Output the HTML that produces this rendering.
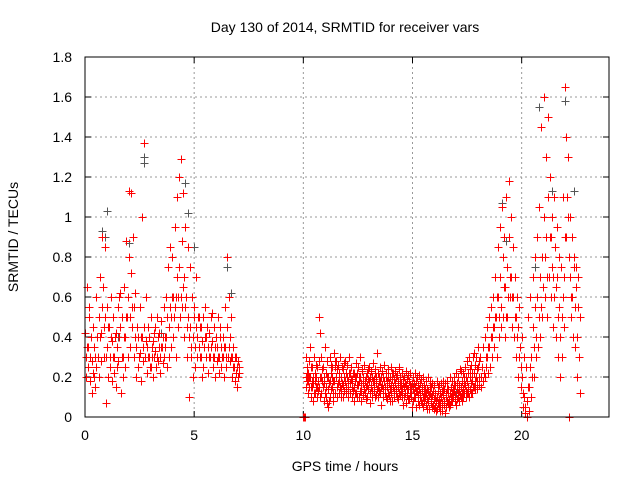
<!DOCTYPE html>
<html><head><meta charset="utf-8"><style>
body{margin:0;background:#fff;}
svg{display:block;font-family:"Liberation Sans",sans-serif;}
.r{stroke:#ff0000;}
.g{stroke:#555555;}
#marks path{shape-rendering:crispEdges;}
</style></head><body>
<svg id="chart" width="640" height="480">
<rect width="640" height="480" fill="#fff"/>
<text x="345" y="32" font-size="14" text-anchor="middle">Day 130 of 2014, SRMTID for receiver vars</text>
<text x="18" y="237" font-size="14" text-anchor="middle" transform="rotate(-90 18 237)">SRMTID / TECUs</text>
<text x="345" y="471" font-size="14" text-anchor="middle">GPS time / hours</text>
<g id="grid"></g><g id="ticks"></g><g id="marks"></g>
<rect x="85" y="57" width="524" height="360" fill="none" stroke="#000" stroke-width="1"/>
</svg>
<script>
const xTicks=[0,5,10,15,20];
const yTicks=[0,0.2,0.4,0.6,0.8,1,1.2,1.4,1.6,1.8];
const yTickLabels=["0","0.2","0.4","0.6","0.8","1","1.2","1.4","1.6","1.8"];
const redTimes=[0.0,0.1,0.2,0.3,0.4,0.5,0.6,0.7,0.8,0.9,1.0,1.1,1.2,1.3,1.4,1.5,1.6,1.7,1.8,1.9,2.0,2.1,2.2,2.3,2.4,2.5,2.6,2.7,2.8,2.9,3.0,3.1,3.2,3.3,3.4,3.5,3.6,3.7,3.8,3.9,4.0,4.1,4.2,4.3,4.4,4.5,4.6,4.7,4.8,4.9,5.0,5.1,5.2,5.3,5.4,5.5,5.6,5.7,5.8,5.9,6.0,6.1,6.2,6.3,6.4,6.5,6.6,6.7,6.8,6.9,7.0,
18.1,18.2,18.3,18.4,18.5,18.6,18.7,18.8,18.9,19.0,19.1,19.2,19.3,19.4,19.5,19.6,19.7,19.8,19.9,20.0,20.1,20.2,20.3,20.4,20.5,20.6,20.7,20.8,20.9,21.0,21.1,21.2,21.3,21.4,21.5,21.6,21.7,21.8,21.9,22.0,22.1,22.2,22.3,22.4,22.5,22.6];
const redValues=[[.42,.3,.2,.35],[.65,.35,.25,.5],[.55,.18,.3,.4],[.28,.12,.45,.22],[.35,.2,.15,.3],[.6,.25,.4,.3],[.3,.5,.2,.4],[.7,.42,.28,.55],[.9,.65,.3,.45],[.85,.5,.07,.3],[.55,.35,.2,.45],[.45,.25,.3,.4],[.6,.38,.18,.3],[.5,.3,.22,.4],[.42,.15,.35,.25],[.55,.28,.6,.4],[.62,.45,.12,.3],[.5,.3,.2,.4],[.65,.4,.25,.5],[.88,.5,.3,.6],[1.13,.8,.35,.5],[1.12,.72,.45,.55],[.9,.55,.3,.4],[.62,.35,.2,.45],[.45,.25,.4,.3],[.55,.32,.18,.4],[1.0,.4,.28,.35],[1.37,.45,.3,.38],[.6,.35,.22,.3],[.45,.3,.4,.25],[.5,.25,.35,.3],[.38,.2,.3,.42],[.45,.33,.25,.3],[.5,.28,.4,.35],[.42,.3,.22,.35],[.48,.35,.27,.4],[.55,.3,.4,.35],[.6,.4,.25,.5],[.75,.45,.3,.55],[.85,.5,.35,.6],[.8,.6,.4,.5],[.95,.55,.3,.6],[1.1,.7,.45,.6],[1.2,.75,.5,.6],[1.29,.88,.55,.65],[1.12,.7,.4,.55],[.95,.6,.3,.45],[.85,.5,.1,.4],[.75,.45,.3,.35],[.6,.4,.2,.5],[.55,.35,.25,.45],[.7,.4,.3,.5],[.5,.35,.45,.3],[.45,.3,.2,.38],[.5,.25,.35,.4],[.55,.4,.3,.45],[.45,.35,.22,.3],[.42,.3,.5,.35],[.52,.38,.25,.3],[.45,.3,.2,.35],[.4,.28,.35,.3],[.5,.3,.22,.4],[.45,.35,.25,.3],[.4,.3,.2,.35],[.55,.35,.25,.3],[.8,.45,.3,.35],[.6,.4,.28,.3],[.5,.3,.2,.25],[.35,.25,.18,.3],[.3,.22,.15,.25],[.28,.2,.25,.22],
[.3,.2,.15,.25],[.25,.18,.35,.22],[.4,.2,.3,.25],[.45,.3,.22,.35],[.5,.35,.25,.4],[.55,.4,.3,.45],[.6,.45,.35,.5],[.7,.5,.3,.6],[.85,.6,.4,.5],[.95,.7,.45,.55],[1.05,.8,.5,.65],[.9,.65,.4,.5],[1.1,.75,.5,.6],[1.18,.9,.6,.7],[1.0,.7,.45,.6],[.85,.6,.4,.5],[.7,.5,.3,.4],[.6,.45,.2,.3],[.55,.35,.15,.25],[.4,.2,.05,.12],[.3,.1,0.02,.05],[.25,.08,0,.15],[.5,.15,.03,.25],[.6,.3,.1,.2],[.7,.45,.2,.35],[.8,.55,.3,.4],[.9,.6,.35,.5],[1.05,.7,.4,.55],[1.45,.8,.5,.65],[1.6,1.0,.6,.8],[1.3,.9,.5,.7],[1.5,1.1,.7,.9],[1.2,.9,.6,.75],[1.0,.7,.45,.6],[1.1,.85,.4,.65],[.95,.7,.3,.5],[.8,.55,.2,.4],[.75,.5,.3,.6],[1.1,.7,.45,.9],[1.65,1.4,.9,1.1],[1.3,1.0,0,.8],[1.0,.7,.5,.6],[.9,.6,.4,.75],[.8,.55,.35,.65],[.75,.4,.2,.55],[.7,.3,.12,.5]];
const quietTimes=[10.0,10.1,10.2,10.3,10.4,10.5,10.6,10.7,10.8,10.9,11.0,11.1,11.2,11.3,11.4,11.5,11.6,11.7,11.8,11.9,12.0,12.1,12.2,12.3,12.4,12.5,12.6,12.7,12.8,12.9,13.0,13.1,13.2,13.3,13.4,13.5,13.6,13.7,13.8,13.9,14.0,14.1,14.2,14.3,14.4,14.5,14.6,14.7,14.8,14.9,15.0,15.1,15.2,15.3,15.4,15.5,15.6,15.7,15.8,15.9,16.0,16.1,16.2,16.3,16.4,16.5,16.6,16.7,16.8,16.9,17.0,17.1,17.2,17.3,17.4,17.5,17.6,17.7,17.8,17.9,18.0];
const quietValues=[[0,0,0,0,0,0],[.3,.2,.15,.25,.18,.22],[.22,.18,.12,.28,.2,.15],[.35,.2,.1,.15,.25,.18],[.25,.15,.08,.2,.17,.12],[.3,.18,.12,.22,.26,.15],[.2,.15,.1,.25,.18,.13],[.5,.28,.15,.1,.2,.42],[.3,.2,.12,.18,.24,.15],[.25,.15,.08,.2,.17,.12],[.35,.22,.1,.15,.2,.07],[.28,.2,.14,.05,.17,.08],[.3,.18,.1,.22,.26,.14],[.25,.2,.15,.08,.18,.12],[.32,.18,.12,.25,.28,.2],[.28,.2,.1,.15,.24,.17],[.26,.18,.12,.22,.3,.15],[.3,.2,.14,.1,.25,.17],[.24,.16,.1,.2,.27,.13],[.28,.18,.12,.22,.15,.2],[.26,.2,.14,.1,.18,.22],[.3,.17,.12,.22,.19,.25],[.25,.19,.1,.15,.22,.13],[.22,.15,.08,.18,.2,.12],[.27,.2,.12,.16,.22,.1],[.25,.16,.1,.2,.18,.13],[.3,.2,.13,.08,.17,.23],[.24,.17,.11,.2,.14,.26],[.26,.18,.12,.15,.2,.09],[.22,.16,.1,.19,.14,.24],[.25,.18,.12,.07,.2,.15],[.23,.16,.1,.2,.13,.18],[.27,.19,.13,.15,.22,.1],[.24,.17,.11,.2,.14,.32],[.22,.15,.1,.18,.13,.2],[.25,.18,.12,.06,.2,.15],[.23,.16,.1,.2,.14,.18],[.26,.18,.12,.15,.2,.1],[.22,.15,.09,.18,.12,.2],[.24,.17,.11,.2,.14,.08],[.25,.16,.12,.08,.19,.22],[.22,.15,.1,.19,.13,.17],[.23,.17,.12,.14,.2,.1],[.21,.15,.09,.18,.12,.25],[.24,.16,.11,.2,.13,.17],[.22,.14,.1,.06,.17,.19],[.2,.15,.1,.17,.12,.07],[.23,.16,.11,.14,.19,.09],[.21,.14,.09,.18,.12,.16],[.22,.15,.1,.12,.17,.05],[.2,.14,.08,.17,.12,.1],[.22,.15,.1,.05,.13,.18],[.2,.13,.08,.16,.11,.06],[.21,.14,.1,.12,.17,.08],[.19,.13,.07,.15,.1,.05],[.2,.12,.08,.16,.1,.14],[.18,.12,.06,.14,.09,.04],[.2,.13,.08,.04,.11,.16],[.18,.12,.07,.15,.1,.05],[.17,.11,.06,.13,.09,.04],[.16,.1,.05,.12,.08,.03],[.18,.1,.04,.13,.07,.15],[.16,.09,.05,.12,.07,.03],[.17,.1,.03,.13,.07,.14],[.18,.11,.06,.14,.08,.02],[.17,.1,.05,.12,.08,.14],[.18,.12,.07,.14,.09,.05],[.2,.12,.06,.15,.1,.08],[.18,.12,.08,.14,.1,.16],[.2,.13,.08,.16,.11,.06],[.22,.14,.09,.17,.12,.1],[.2,.13,.08,.16,.11,.24],[.23,.15,.1,.18,.12,.08],[.22,.14,.1,.17,.12,.2],[.25,.16,.1,.2,.13,.12],[.28,.18,.12,.22,.15,.1],[.3,.2,.14,.24,.17,.12],[.26,.18,.12,.22,.15,.3],[.32,.22,.15,.26,.18,.14],[.3,.2,.14,.24,.18,.35],[.35,.25,.16,.28,.2,.3]];
const grayTimes=[0.8,0.9,1.0,2.0,2.7,2.7,4.6,4.7,5.0,6.5,6.7,19.1,19.3,20.6,20.8,21.4,22.0,22.4,1.5,3.5,12.0,15.0,17.0];
const grayValues=[.93,.9,1.03,.87,1.3,1.27,1.17,1.02,.85,.75,.62,1.07,.88,.75,1.55,1.13,1.58,1.13,.4,.42,.2,.15,.12];

const X0=85,X1=609,Y0=417,Y1=57,XMAX=24,YMAX=1.8;
const xs=t=>X0+t/XMAX*(X1-X0);
const ys=v=>Y0-v/YMAX*(Y0-Y1);
const NS="http://www.w3.org/2000/svg";
const grid=document.getElementById('grid'),ticks=document.getElementById('ticks'),marks=document.getElementById('marks');
function mk(tag,attrs,parent){const e=document.createElementNS(NS,tag);for(const k in attrs)e.setAttribute(k,attrs[k]);parent.appendChild(e);return e;}
xTicks.forEach(t=>{
  const x=xs(t);
  if(t>0){const g=mk('line',{x1:x,x2:x,y1:Y1,y2:Y0,stroke:'#999','stroke-dasharray':'2,3'},grid);
  
  }
  mk('line',{x1:x,x2:x,y1:Y0,y2:Y0-6,stroke:'#000'},ticks);
  mk('line',{x1:x,x2:x,y1:Y1,y2:Y1+6,stroke:'#000'},ticks);
  const l=mk('text',{x:x,y:Y0+23,'font-size':14,'text-anchor':'middle'},ticks);l.textContent=t;
  
  
});
yTicks.forEach((v,i)=>{
  const y=ys(v);
  if(v>0&&v<YMAX){const g=mk('line',{x1:X0,x2:X1,y1:y,y2:y,stroke:'#999','stroke-dasharray':'2,3'},grid);
  
  }
  mk('line',{x1:X0,x2:X0+6,y1:y,y2:y,stroke:'#000'},ticks);
  mk('line',{x1:X1,x2:X1-6,y1:y,y2:y,stroke:'#000'},ticks);
  const l=mk('text',{x:X0-13,y:y+5,'font-size':14,'text-anchor':'end'},ticks);l.textContent=yTickLabels[i];
  
  
});
function plus(t,v,cls,name){
  const x=Math.round(xs(t))+0.5,y=Math.round(ys(v))+0.5;
  const p=mk('path',{d:'M'+(x-4)+' '+y+'H'+(x+4)+'M'+x+' '+(y-4)+'V'+(y+4),'class':cls,'stroke-width':1,fill:'none'},marks);
  
  
}
grayTimes.forEach((t,i)=>plus(t,grayValues[i],'g','gray-point'));
redTimes.forEach((t,i)=>redValues[i].forEach((v,j)=>plus(t+j*0.025,v,'r','red-point')));
quietTimes.forEach((t,i)=>quietValues[i].forEach((v,j)=>plus(t+j*0.016,v,'r','red-point')));
</script>
</body></html>
